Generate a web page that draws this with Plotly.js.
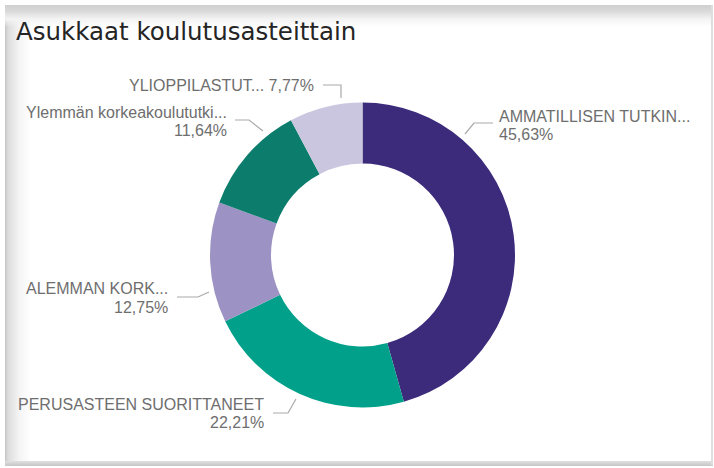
<!DOCTYPE html>
<html><head><meta charset="utf-8">
<script src="https://cdn.plot.ly/plotly-3.0.1.min.js"></script>
<style>
html,body{margin:0;padding:0;width:714px;height:468px;overflow:hidden;background:#fff;}
.deco{position:absolute;pointer-events:none;}
#left{left:5px;top:5px;width:26px;height:460px;background:linear-gradient(to right,#c4c4c4 0px,#dcdcdc 3px,#f4f4f4 14px,rgba(255,255,255,0) 26px);}
#top{left:5px;top:5px;width:708px;height:22px;background:linear-gradient(to bottom,#cfcfcf 0px,#d9d9d9 6px,#f3f3f3 14px,rgba(255,255,255,0) 22px);}
#bottom{left:5px;top:461px;width:708px;height:5px;background:linear-gradient(to bottom,#e0e0e0,#c6c6c6);}
#right{left:711px;top:5px;width:2px;height:460px;background:#dedede;}
#chart{position:absolute;left:0;top:0;width:714px;height:468px;}
</style></head>
<body>
<div class="deco" id="left"></div>
<div class="deco" id="top"></div>
<div class="deco" id="bottom"></div>
<div class="deco" id="right"></div>
<div id="chart"></div>
<script>
// ---- data ----
var categories = ["AMMATILLISEN TUTKINNON SUORITTANEET","PERUSASTEEN SUORITTANEET","ALEMMAN KORKEAKOULUTUTKINNON SUORITTANEET","Ylemmän korkeakoulututkinnon suorittaneet","YLIOPPILASTUTKINNON SUORITTANEET"];
var shortLabels = ["AMMATILLISEN TUTKIN...","PERUSASTEEN SUORITTANEET","ALEMMAN KORK...","Ylemmän korkeakoulututki...","YLIOPPILASTUT..."];
var percents = [45.63, 22.21, 12.75, 11.64, 7.77];
var colors = ["#3c2a7b","#01a08a","#9c93c4","#0c7d6c","#cac6df"];

// ---- layout helpers (pixel -> paper) ----
var W = 714, H = 468;
function px(x){return x/W;}
function py(y){return 1 - y/H;}
var cx = 362.5, cy = 255, R = 152.5;

// label placement (layout only): text position, alignment, leader polyline
var labelCfg = [
  {x:497, y1:116, y2:134, anchor:"left",  line:[[465,134],[474,123],[493,123]]},
  {x:266, y1:404, y2:422, anchor:"right", line:[[273,413],[288,413],[296,399]]},
  {x:170, y1:288, y2:307, anchor:"right", line:[[177,297],[198,297],[209,292]]},
  {x:229, y1:112, y2:130, anchor:"right", line:[[235,120],[249,120],[263,131]]},
  {x:316, y1:85,  y2:null, anchor:"right", line:[[323,85],[341,85],[341,98]]}
];

function fmt(v){return v.toFixed(2).replace(".", ",") + "%";}

var labelFont = {family:"Liberation Sans, Arial, sans-serif", size:16, color:"#6e6e6e"};
var annotations = [], shapes = [];
labelCfg.forEach(function(c, i){
  if (c.y2 === null) {
    annotations.push({xref:"paper", yref:"paper", x:px(c.x), y:py(c.y1), xanchor:c.anchor, yanchor:"middle",
      text: shortLabels[i] + " " + fmt(percents[i]), showarrow:false, font:labelFont});
  } else {
    annotations.push({xref:"paper", yref:"paper", x:px(c.x), y:py(c.y1), xanchor:c.anchor, yanchor:"middle",
      text: shortLabels[i], showarrow:false, font:labelFont});
    annotations.push({xref:"paper", yref:"paper", x:px(c.x), y:py(c.y2), xanchor:c.anchor, yanchor:"middle",
      text: fmt(percents[i]), showarrow:false, font:labelFont});
  }
  var d = c.line.map(function(p, k){return (k===0?"M":"L") + px(p[0]) + "," + py(p[1]);}).join(" ");
  shapes.push({type:"path", xref:"paper", yref:"paper", path:d, line:{color:"#a9a9a9", width:1.2}});
});

var trace = {
  type:"pie",
  labels: categories,
  values: percents,
  hole: 0.6,
  sort: false,
  direction: "clockwise",
  rotation: 0,
  textinfo: "none",
  hoverinfo: "label+percent",
  marker: {colors: colors, line:{color:"#ffffff", width:0}},
  domain: {x:[px(cx-R), px(cx+R)], y:[py(cy+R), py(cy-R)]},
  showlegend: false
};

var layout = {
  width: W, height: H,
  margin: {l:0, r:0, t:0, b:0},
  paper_bgcolor: "rgba(0,0,0,0)",
  plot_bgcolor: "rgba(0,0,0,0)",
  title: {text:"Asukkaat koulutusasteittain", x: px(16), xanchor:"left", y: py(31), yanchor:"middle",
          font:{family:"DejaVu Sans, sans-serif", size:24.5, color:"#252525"}},
  annotations: annotations,
  shapes: shapes,
  showlegend: false
};

Plotly.newPlot("chart", [trace], layout, {displayModeBar:false, staticPlot:true});
</script>
</body></html>
